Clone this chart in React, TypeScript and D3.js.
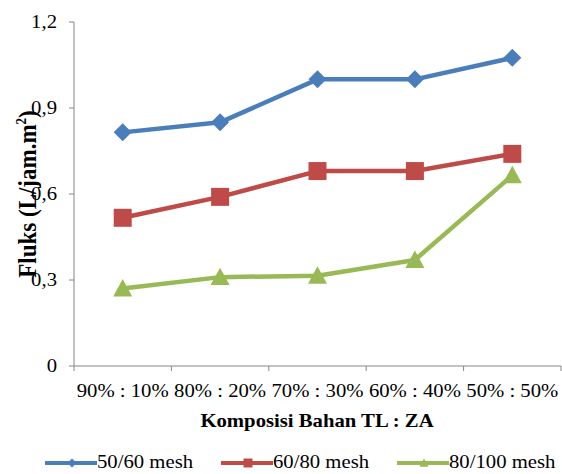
import React from "react";
import * as d3 from "d3";

const categories = ["90% : 10%", "80% : 20%", "70% : 30%", "60% : 40%", "50% : 50%"];
const mesh5060 = [0.815, 0.85, 1.0, 1.0, 1.075];
const mesh6080 = [0.517, 0.59, 0.68, 0.68, 0.74];
const mesh80100 = [0.27, 0.31, 0.315, 0.37, 0.665];
const yTicks = [0, 0.3, 0.6, 0.9, 1.2];
const seriesNames = ["50/60 mesh", "60/80 mesh", "80/100 mesh"];

const W = 562, H = 474;
const left = 74, right = 561, top = 22, bottom = 366;
const font = "Liberation Serif, DejaVu Serif, serif";
const SX = 1.12;

function markerPath(m: string, s: number): string {
  const p = d3.path();
  if (m === "diamond") {
    p.moveTo(0, -s / 2); p.lineTo(s / 2, 0); p.lineTo(0, s / 2); p.lineTo(-s / 2, 0); p.closePath();
  } else if (m === "square") {
    p.rect(-s / 2, -s / 2, s, s);
  } else {
    p.moveTo(0, -s * 0.5); p.lineTo(s / 2, s * 0.42); p.lineTo(-s / 2, s * 0.42); p.closePath();
  }
  return p.toString();
}

function T(props: { x: number; y: number; anchor?: string; size: number; bold?: boolean; children: React.ReactNode; rotate?: boolean; dy?: string }) {
  const tr = `translate(${props.x},${props.y}) scale(${SX},1)${props.rotate ? " rotate(-90)" : ""}`;
  return (
    <text transform={tr} textAnchor={props.anchor || "start"} dy={props.dy} style={{ fontFamily: font }}
      fontSize={props.size} fontWeight={props.bold ? "bold" : "normal"} fill="#000">
      {props.children}
    </text>
  );
}

export default function App() {
  const x = d3.scaleBand<string>().domain(categories).range([left, right]);
  const y = d3.scaleLinear().domain([0, 1.2]).range([bottom, top]);
  const series = [
    { name: seriesNames[0], values: mesh5060, color: "#4a7ebb", marker: "diamond", size: 18 },
    { name: seriesNames[1], values: mesh6080, color: "#be4b48", marker: "square", size: 18 },
    { name: seriesNames[2], values: mesh80100, color: "#98b954", marker: "triangle", size: 19 },
  ];
  const cx = (i: number) => (x(categories[i]) as number) + x.bandwidth() / 2;
  const line = d3.line<number>().x((_, i) => cx(i)).y((v) => y(v));
  const legendX = [45, 221, 397];

  return (
    <svg width={W} height={H} style={{ position: "absolute", left: 0, top: 0, background: "#fff" }}>
      <line x1={left} y1={top} x2={left} y2={bottom} stroke="#868686" strokeWidth={1} />
      <line x1={left} y1={bottom} x2={right} y2={bottom} stroke="#868686" strokeWidth={1} />
      {yTicks.map((t) => (
        <g key={t}>
          <line x1={left - 5} x2={left} y1={y(t)} y2={y(t)} stroke="#868686" />
          <T x={57} y={y(t)} dy="0.35em" anchor="end" size={18.5}>
            {t === 0 ? "0" : d3.format(".1f")(t).replace(".", ",")}
          </T>
        </g>
      ))}
      {categories.map((c, i) => (
        <g key={c}>
          <line x1={x(c) as number} x2={x(c) as number} y1={bottom} y2={bottom + 5} stroke="#868686" />
          {i === categories.length - 1 && (
            <line x1={right} x2={right} y1={bottom} y2={bottom + 5} stroke="#868686" />
          )}
          <T x={cx(i)} y={397} anchor="middle" size={18.5}>{c}</T>
        </g>
      ))}
      <T x={317} y={427} anchor="middle" size={18.5} bold>Komposisi Bahan TL : ZA</T>
      <T x={36 / SX * SX} y={(top + bottom) / 2} anchor="middle" size={23} bold rotate>
        Fluks (L/jam.m<tspan fontSize={13} dy={-9}>2</tspan><tspan dy={9}>)</tspan>
      </T>
      {series.map((s) => (
        <g key={s.name}>
          <path d={line(s.values) as string} fill="none" stroke={s.color} strokeWidth={4.5} strokeLinejoin="round" />
          {s.values.map((v, i) => (
            <path key={i} d={markerPath(s.marker, s.size)} transform={`translate(${cx(i)}, ${y(v)})`} fill={s.color} />
          ))}
        </g>
      ))}
      {series.map((s, i) => (
        <g key={s.name}>
          <line x1={legendX[i]} x2={legendX[i] + 52} y1={463} y2={463} stroke={s.color} strokeWidth={4} />
          <path d={markerPath(s.marker, 9)} transform={`translate(${legendX[i] + 27},463)`} fill={s.color} />
          <T x={legendX[i] + 52} y={468} size={18.5}>{s.name}</T>
        </g>
      ))}
    </svg>
  );
}
